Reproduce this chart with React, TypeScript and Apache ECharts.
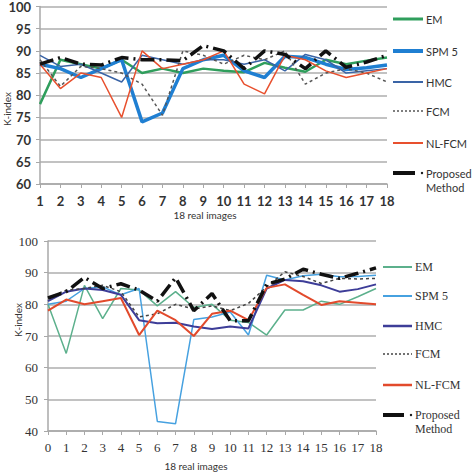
import React, { useEffect, useRef } from "react";
import * as echarts from "echarts";

const seriesNames = ["EM", "SPM 5", "HMC", "FCM", "NL-FCM", "Proposed Method"];

const topCategories = ["1", "2", "3", "4", "5", "6", "7", "8", "9", "10", "11", "12", "13", "14", "15", "16", "17", "18"];
const topEM = [78, 88, 87, 86, 88, 85, 86, 85, 86, 85.5, 85.2, 87.3, 86.2, 85.3, 88, 87, 87.8, 88.5];
const topSPM = [87, 86, 84, 86, 88, 74, 76, 86, 88, 89, 85.5, 84, 88.8, 88.5, 87, 85.8, 86.2, 86.8];
const topHMC = [89, 86.5, 87, 85, 83, 89, 88, 87, 88, 88, 87, 88, 85.5, 89.2, 88, 85, 85.5, 86];
const topFCM = [88, 82, 86.5, 86, 85, 82.5, 75.5, 90, 89, 87, 89, 88, 90, 82.5, 85, 86, 85, 83];
const topNL = [87, 81.5, 85, 84, 75, 90, 86, 87, 88, 90, 82.5, 80.3, 89, 88, 85.5, 84, 85, 86];
const topProp = [87, 88.5, 87, 86.8, 88.5, 88, 88, 87.8, 91.2, 90, 86, 90, 89.2, 86, 90, 86.3, 87.5, 89];

const botCategories = ["0", "1", "2", "3", "4", "5", "6", "7", "8", "9", "10", "11", "12", "13", "14", "15", "16", "17", "18"];
const botEM = [80, 64.5, 86, 75.5, 85, 84.5, 79.5, 84, 79, 80, 75, 74.3, 70.3, 78.2, 78.2, 81, 80, 82.4, 85];
const botSPM = [80, 81, 85, 85.5, 83, 85, 43, 42.3, 75.2, 76, 77.6, 70.3, 89.2, 87.7, 89, 89.5, 88.7, 88.8, 89.2];
const botHMC = [81, 84, 85, 84.5, 83, 75, 74, 74.2, 73, 72.2, 73, 72.4, 85, 87.7, 87.3, 86, 84, 84.8, 86.3];
const botFCM = [82, 84.5, 85, 86, 84, 76, 77, 80, 78.5, 79.5, 78, 80.3, 85.5, 90.3, 88.8, 86.6, 88.2, 88, 88.2];
const botNL = [78, 81.5, 80, 81, 82, 70.3, 78, 75, 70, 77, 78, 75, 85.2, 86.3, 83, 79.8, 81, 80.5, 80];
const botProp = [82, 84, 88.5, 85, 86.5, 84.5, 81, 88.4, 78, 83.4, 74.8, 74.8, 86.3, 88, 91.1, 89.5, 88.2, 89.8, 91.5];

const topData = [topEM, topSPM, topHMC, topFCM, topNL, topProp];
const botData = [botEM, botSPM, botHMC, botFCM, botNL, botProp];

const topColors = ["#2f9e5c", "#1f7fd2", "#3a64a6", "#555555", "#e8502e", "#111111"];
const topWidths = [2.5, 3.5, 1.5, 1.5, 1.5, 3.5];
const botColors = ["#5cb08c", "#46a1e0", "#3d3d98", "#444444", "#e24a2c", "#111111"];
const botWidths = [1.5, 1.5, 2, 1.5, 2, 3.5];
const lineTypes: any[] = ["solid", "solid", "solid", [3, 3], "solid", [14, 5, 2, 5]];

const sans = "Lato";
const serif = "Liberation Serif";

function legendItems(x1: number, x2: number, ys: number[], colors: string[], widths: number[], font: string, size: number, weight: string) {
  const els: any[] = [];
  seriesNames.forEach((name, i) => {
    const y = ys[i];
    const isProp = i === 5;
    if (isProp) {
      els.push({ type: "line", shape: { x1, y1: y, x2: x2 - 8, y2: y }, style: { stroke: colors[i], lineWidth: 4 } });
      els.push({ type: "circle", shape: { cx: x2 - 1, cy: y, r: 1.2 }, style: { fill: colors[i] } });
    } else {
      els.push({
        type: "line",
        shape: { x1, y1: y, x2, y2: y },
        style: { stroke: colors[i], lineWidth: i === 3 ? 1.5 : widths[i] + 0.5, lineDash: i === 3 ? [2, 2] : null },
      });
    }
    els.push({
      type: "text",
      x: x2 + 3,
      y: isProp ? y - 7 : y,
      style: {
        text: isProp ? "Proposed\nMethod" : name,
        fill: "#333",
        font: `${weight} ${size}px "${font}"`,
        verticalAlign: isProp ? "top" : "middle",
        lineHeight: 14,
      },
    });
  });
  return els;
}

export default function App() {
  const ref = useRef<HTMLDivElement>(null);
  useEffect(() => {
    document.body.style.margin = "0";
    const chart = echarts.init(ref.current!, null, { renderer: "svg" });
    const axisGray = "#a8a8a8";
    const series: any[] = [];
    seriesNames.forEach((n, i) => {
      series.push({
        type: "line",
        name: n,
        xAxisIndex: 0,
        yAxisIndex: 0,
        data: topData[i],
        symbol: "none",
        lineStyle: { color: topColors[i], width: topWidths[i], type: lineTypes[i] },
        z: i === 5 ? 5 : 3,
      });
    });
    seriesNames.forEach((n, i) => {
      series.push({
        type: "line",
        name: n + " ",
        xAxisIndex: 1,
        yAxisIndex: 1,
        data: botData[i],
        symbol: "none",
        lineStyle: { color: botColors[i], width: botWidths[i], type: lineTypes[i] },
        z: i === 5 ? 5 : 3,
      });
    });
    const option: any = {
      animation: false,
      backgroundColor: "#fff",
      grid: [
        { left: 40, top: 5, width: 347, height: 179 },
        { left: 48, top: 241, width: 328, height: 190 },
      ],
      xAxis: [
        {
          type: "category",
          gridIndex: 0,
          data: topCategories,
          boundaryGap: false,
          axisLine: { lineStyle: { color: axisGray, width: 1.5 } },
          axisTick: { show: true, length: 4, lineStyle: { color: axisGray } },
          axisLabel: { color: "#333", fontFamily: sans, fontWeight: "bold", fontSize: 13, margin: 10 },
        },
        {
          type: "category",
          gridIndex: 1,
          data: botCategories,
          boundaryGap: false,
          axisLine: { lineStyle: { color: axisGray, width: 1.5 } },
          axisTick: { show: true, length: 4, lineStyle: { color: axisGray } },
          axisLabel: { color: "#333", fontFamily: serif, fontSize: 13, margin: 10 },
        },
      ],
      yAxis: [
        {
          type: "value",
          gridIndex: 0,
          min: 60,
          max: 100,
          interval: 5,
          axisLine: { show: true, lineStyle: { color: axisGray, width: 1.5 } },
          axisTick: { show: true, length: 4, lineStyle: { color: axisGray } },
          splitLine: { lineStyle: { color: "#c2c2c2", width: 2 } },
          axisLabel: { color: "#333", fontFamily: sans, fontWeight: "bold", fontSize: 13, margin: 9 },
        },
        {
          type: "value",
          gridIndex: 1,
          min: 40,
          max: 100,
          interval: 10,
          axisLine: { show: true, lineStyle: { color: axisGray, width: 1.5 } },
          axisTick: { show: true, length: 4, lineStyle: { color: axisGray } },
          splitLine: { lineStyle: { color: "#c2c2c2", width: 2 } },
          axisLabel: { color: "#333", fontFamily: serif, fontSize: 13, margin: 10 },
        },
      ],
      series,
      graphic: [
        { type: "text", x: 7, y: 109, rotation: Math.PI / 2, style: { text: "K-index", fill: "#333", font: `10px "${sans}"`, align: "center", verticalAlign: "middle" } },
        { type: "text", x: 205, y: 215, style: { text: "18 real images", fill: "#333", font: `10px "${sans}"`, align: "center", verticalAlign: "middle" } },
        { type: "text", x: 18, y: 320, rotation: Math.PI / 2, style: { text: "K-index", fill: "#333", font: `10px "${sans}"`, align: "center", verticalAlign: "middle" } },
        { type: "text", x: 196, y: 466, style: { text: "18 real images", fill: "#333", font: `10px "${sans}"`, align: "center", verticalAlign: "middle" } },
        ...legendItems(393, 423, [19, 51, 82, 111, 143, 173], topColors, topWidths, sans, 11, "normal"),
        ...legendItems(383, 412, [267, 296, 326, 354, 385, 415], botColors, botWidths, serif, 12, "normal"),
      ],
    };
    chart.setOption(option);
    return () => chart.dispose();
  }, []);
  return <div ref={ref} style={{ width: 472, height: 474 }} />;
}
